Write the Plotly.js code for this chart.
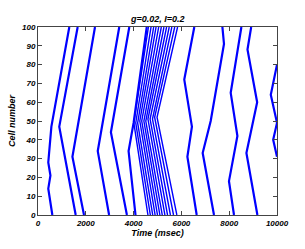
<!DOCTYPE html>
<html>
<head>
<meta charset="utf-8">
<script src="https://cdn.plot.ly/plotly-3.0.1.min.js"></script>
<style>html,body{margin:0;padding:0;background:#fff;}#chart{width:305px;height:249px;}</style>
</head>
<body>
<div id="chart"></div>
<script>
// Wavefront vertices: spike time (ms) and cell number
var wave1Time = [600, 430, 520, 430, 560, 1310];
var wave1Cell = [0, 14, 21, 28, 47, 100];
var wave2Time = [1577, 890, 1660];
var wave2Cell = [0, 47, 100];
var wave3Time = [1925, 1440, 2385];
var wave3Cell = [0, 31, 100];
var wave4Time = [2975, 2500, 3400];
var wave4Cell = [0, 34, 100];
var wave5Time = [3720, 3050, 3820];
var wave5Cell = [0, 44, 100];
var wave6Time = [4080, 3790, 4000, 4550];
var wave6Cell = [0, 34, 49, 100];
// dense burst of waves: bottom (cell 0), turning point, top (cell 100)
var burstBottomTime = [4600, 4700, 4800, 4900, 5000, 5100, 5200, 5310, 5420, 5540, 5670, 5810];
var burstTurnTime   = [4010, 4090, 4170, 4260, 4340, 4430, 4510, 4600, 4690, 4790, 4880, 4980];
var burstTurnCell   = [49, 49, 49, 50, 50, 50, 50, 51, 51, 51, 52, 52];
var burstTopTime    = [4620, 4730, 4840, 4940, 5050, 5160, 5270, 5380, 5490, 5600, 5720, 5840];
var wave7Time = [6640, 6250, 6440, 6120, 6540];
var wave7Cell = [0, 31, 47, 72, 100];
var wave8Time = [7364, 6890, 7226, 7782, 7715];
var wave8Cell = [0, 33, 50, 91, 100];
var wave9Time = [8201, 7991, 8343, 8063, 8510];
var wave9Cell = [0, 18, 42, 65, 100];
var wave10Time = [9180, 8720, 9170, 8765, 8920];
var wave10Cell = [0, 33, 60, 88, 100];
var wave11Time = [10000, 9840, 10000, 9740, 10000];
var wave11Cell = [31, 40, 49, 64, 80];

var xTicks = [0, 2000, 4000, 6000, 8000, 10000];
var xTickText = ['0', '2000', '4000', '6000', '8000', '10000'];
var yTicks = [0, 10, 20, 30, 40, 50, 60, 70, 80, 90, 100];

var waves = [
  [wave1Time, wave1Cell], [wave2Time, wave2Cell], [wave3Time, wave3Cell],
  [wave4Time, wave4Cell], [wave5Time, wave5Cell], [wave6Time, wave6Cell],
  [wave7Time, wave7Cell], [wave8Time, wave8Cell], [wave9Time, wave9Cell],
  [wave10Time, wave10Cell], [wave11Time, wave11Cell]
];

var traces = waves.map(function (w) {
  return {
    x: w[0], y: w[1], type: 'scatter', mode: 'lines',
    line: {color: '#0000ff', width: 2.2},
    hoverinfo: 'skip', showlegend: false
  };
});
for (var i = 0; i < burstBottomTime.length; i++) {
  traces.push({
    x: [burstBottomTime[i], burstTurnTime[i], burstTopTime[i]],
    y: [0, burstTurnCell[i], 100],
    type: 'scatter', mode: 'lines',
    line: {color: '#0000ff', width: 1.4},
    hoverinfo: 'skip', showlegend: false
  });
}

var tickFont = {family: 'Liberation Sans, Arial, sans-serif', size: 8, color: '#000', weight: 'bold', style: 'italic'};
var titleFont = {family: 'Liberation Sans, Arial, sans-serif', size: 9, color: '#000', weight: 'bold', style: 'italic'};

var layout = {
  width: 305, height: 249,
  margin: {l: 38, r: 28, t: 27, b: 34},
  paper_bgcolor: '#fff', plot_bgcolor: '#fff',
  title: {text: 'g=0.02, I=0.2', font: titleFont, x: 0.517, xanchor: 'center', y: 0.925, yanchor: 'middle'},
  xaxis: {
    range: [0, 10000], tickvals: xTicks, ticktext: xTickText,
    ticks: 'inside', ticklen: 4, tickcolor: '#444', mirror: 'ticks',
    showline: true, linecolor: '#444', linewidth: 1, showgrid: false, zeroline: false,
    tickfont: tickFont,
    title: {text: 'Time (msec)', font: titleFont, standoff: 2}
  },
  yaxis: {
    range: [0, 100], tickvals: yTicks,
    ticks: 'inside', ticklen: 4, tickcolor: '#444', mirror: 'ticks',
    showline: true, linecolor: '#444', linewidth: 1, showgrid: false, zeroline: false,
    tickfont: tickFont,
    title: {text: 'Cell number', font: titleFont, standoff: 4}
  }
};

Plotly.newPlot('chart', traces, layout, {displayModeBar: false, staticPlot: true});
</script>
</body>
</html>
